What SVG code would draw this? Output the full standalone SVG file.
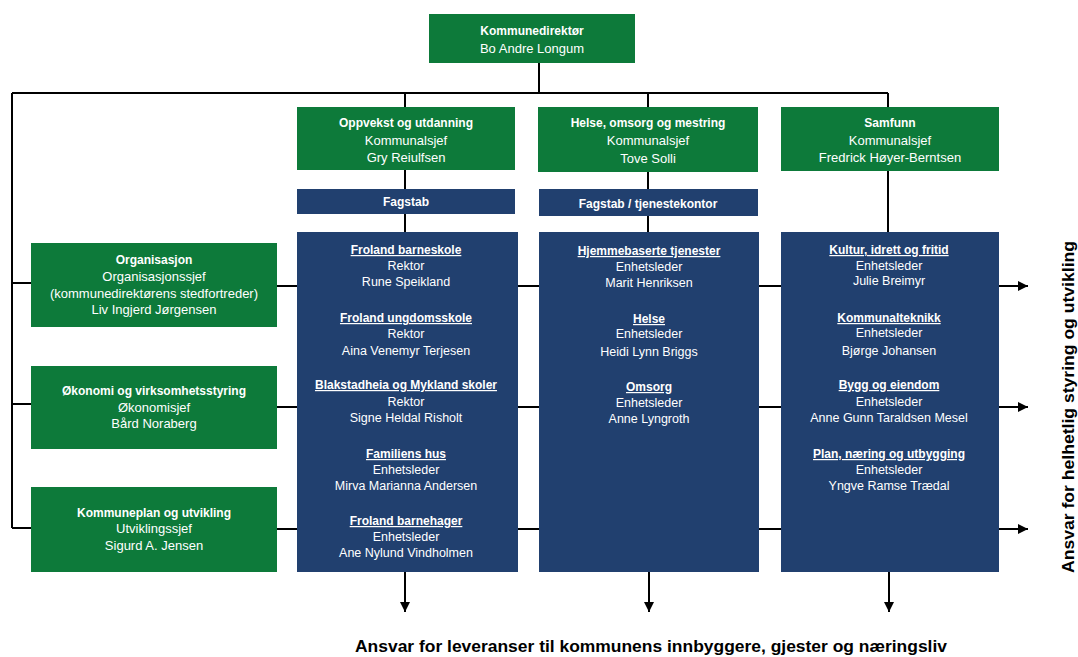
<svg xmlns="http://www.w3.org/2000/svg" width="1078" height="657" viewBox="0 0 1078 657">
<style>
text{font-family:"Liberation Sans",Arial,sans-serif;fill:#ffffff;text-anchor:middle}
.b{font-weight:bold;font-size:12px}
.r{font-size:12.5px}
.rg{font-size:13px}
.u{font-weight:bold;font-size:12px;text-decoration:underline}
.g{fill:#0d7a3a}
.n{fill:#21406f}
.ln{stroke:#000;stroke-width:2;fill:none}
.big{font-weight:bold;font-size:17px;fill:#000}
</style>
<defs>
<marker id="ah" viewBox="0 0 10 10" refX="10" refY="5" markerWidth="5" markerHeight="5" orient="auto" markerUnits="strokeWidth">
<path d="M0,0 L10,5 L0,10 z" fill="#000"/>
</marker>
</defs>
<rect width="1078" height="657" fill="#fff"/>
<g id="connectors" class="ln">
<path d="M539,63 V93"/>
<path d="M12,93 H888"/>
<path d="M12,93 V528"/>
<path d="M12,283 H31 M12,404 H31 M12,528 H31"/>
<path d="M405,93 V233"/>
<path d="M648,93 V233"/>
<path d="M888,93 V233"/>
<path d="M277,286 H1028" marker-end="url(#ah)"/>
<path d="M277,407 H1028" marker-end="url(#ah)"/>
<path d="M277,529 H1028" marker-end="url(#ah)"/>
<path d="M405,572 V612" marker-end="url(#ah)"/>
<path d="M649,572 V612" marker-end="url(#ah)"/>
<path d="M889,572 V612" marker-end="url(#ah)"/>
</g>
<g id="kommunedirektor">
<rect class="g" x="429" y="14" width="206" height="49"/>
<text class="b" x="532" y="35">Kommunedirektør</text>
<text class="rg" x="532" y="53">Bo Andre Longum</text>
</g>
<g id="oppvekst">
<rect class="g" x="297" y="107" width="218" height="63"/>
<text class="b" x="406" y="127">Oppvekst og utdanning</text>
<text class="rg" x="406" y="145">Kommunalsjef</text>
<text class="rg" x="406" y="162">Gry Reiulfsen</text>
</g>
<g id="helse">
<rect class="g" x="538" y="107" width="220" height="65"/>
<text class="b" x="648" y="127">Helse, omsorg og mestring</text>
<text class="rg" x="648" y="145">Kommunalsjef</text>
<text class="rg" x="648" y="163">Tove Solli</text>
</g>
<g id="samfunn">
<rect class="g" x="781" y="107" width="218" height="64"/>
<text class="b" x="890" y="127">Samfunn</text>
<text class="rg" x="890" y="145">Kommunalsjef</text>
<text class="rg" x="890" y="162">Fredrick Høyer-Berntsen</text>
</g>
<g id="fagstab1">
<rect class="n" x="297" y="189" width="218" height="25"/>
<text class="b" x="406" y="206">Fagstab</text>
</g>
<g id="fagstab2">
<rect class="n" x="539" y="189" width="219" height="27"/>
<text class="b" x="648" y="208">Fagstab / tjenestekontor</text>
</g>
<g id="organisasjon">
<rect class="g" x="31" y="243" width="246" height="84"/>
<text class="b" x="154" y="264">Organisasjon</text>
<text class="rg" x="154" y="281">Organisasjonssjef</text>
<text class="rg" x="154" y="298">(kommunedirektørens stedfortreder)</text>
<text class="rg" x="154" y="314">Liv Ingjerd Jørgensen</text>
</g>
<g id="okonomi">
<rect class="g" x="31" y="366" width="246" height="83"/>
<text class="b" x="154" y="395">Økonomi og virksomhetsstyring</text>
<text class="rg" x="154" y="412">Økonomisjef</text>
<text class="rg" x="154" y="428">Bård Noraberg</text>
</g>
<g id="kommuneplan">
<rect class="g" x="31" y="487" width="246" height="85"/>
<text class="b" x="154" y="517">Kommuneplan og utvikling</text>
<text class="rg" x="154" y="533">Utviklingssjef</text>
<text class="rg" x="154" y="550">Sigurd A. Jensen</text>
</g>
<g id="enheter-oppvekst">
<rect class="n" x="297" y="232" width="221" height="340"/>
<text class="u" x="406" y="254">Froland barneskole</text>
<text class="r" x="406" y="270">Rektor</text>
<text class="r" x="406" y="286">Rune Speikland</text>
<text class="u" x="406" y="322">Froland ungdomsskole</text>
<text class="r" x="406" y="338">Rektor</text>
<text class="r" x="406" y="355">Aina Venemyr Terjesen</text>
<text class="u" x="406" y="389">Blakstadheia og Mykland skoler</text>
<text class="r" x="406" y="406">Rektor</text>
<text class="r" x="406" y="422">Signe Heldal Risholt</text>
<text class="u" x="406" y="458">Familiens hus</text>
<text class="r" x="406" y="474">Enhetsleder</text>
<text class="r" x="406" y="490">Mirva Marianna Andersen</text>
<text class="u" x="406" y="525">Froland barnehager</text>
<text class="r" x="406" y="541">Enhetsleder</text>
<text class="r" x="406" y="557">Ane Nylund Vindholmen</text>
</g>
<g id="enheter-helse">
<rect class="n" x="539" y="232" width="220" height="340"/>
<text class="u" x="649" y="255">Hjemmebaserte tjenester</text>
<text class="r" x="649" y="271">Enhetsleder</text>
<text class="r" x="649" y="287">Marit Henriksen</text>
<text class="u" x="649" y="323">Helse</text>
<text class="r" x="649" y="338">Enhetsleder</text>
<text class="r" x="649" y="356">Heidi Lynn Briggs</text>
<text class="u" x="649" y="391">Omsorg</text>
<text class="r" x="649" y="407">Enhetsleder</text>
<text class="r" x="649" y="423">Anne Lyngroth</text>
</g>
<g id="enheter-samfunn">
<rect class="n" x="781" y="232" width="218" height="340"/>
<text class="u" x="889" y="254">Kultur, idrett og fritid</text>
<text class="r" x="889" y="270">Enhetsleder</text>
<text class="r" x="889" y="285">Julie Breimyr</text>
<text class="u" x="889" y="322">Kommunalteknikk</text>
<text class="r" x="889" y="337">Enhetsleder</text>
<text class="r" x="889" y="355">Bjørge Johansen</text>
<text class="u" x="889" y="389">Bygg og eiendom</text>
<text class="r" x="889" y="406">Enhetsleder</text>
<text class="r" x="889" y="422">Anne Gunn Taraldsen Mesel</text>
<text class="u" x="889" y="458">Plan, næring og utbygging</text>
<text class="r" x="889" y="474">Enhetsleder</text>
<text class="r" x="889" y="490">Yngve Ramse Trædal</text>
</g>
<g id="ansvar-styring">
<text class="big" transform="translate(1074,407) rotate(-90)" textLength="332" lengthAdjust="spacingAndGlyphs">Ansvar for helhetlig styring og utvikling</text>
</g>
<g id="ansvar-leveranser">
<text class="big" x="651" y="652" textLength="592" lengthAdjust="spacingAndGlyphs">Ansvar for leveranser til kommunens innbyggere, gjester og næringsliv</text>
</g>
</svg>
